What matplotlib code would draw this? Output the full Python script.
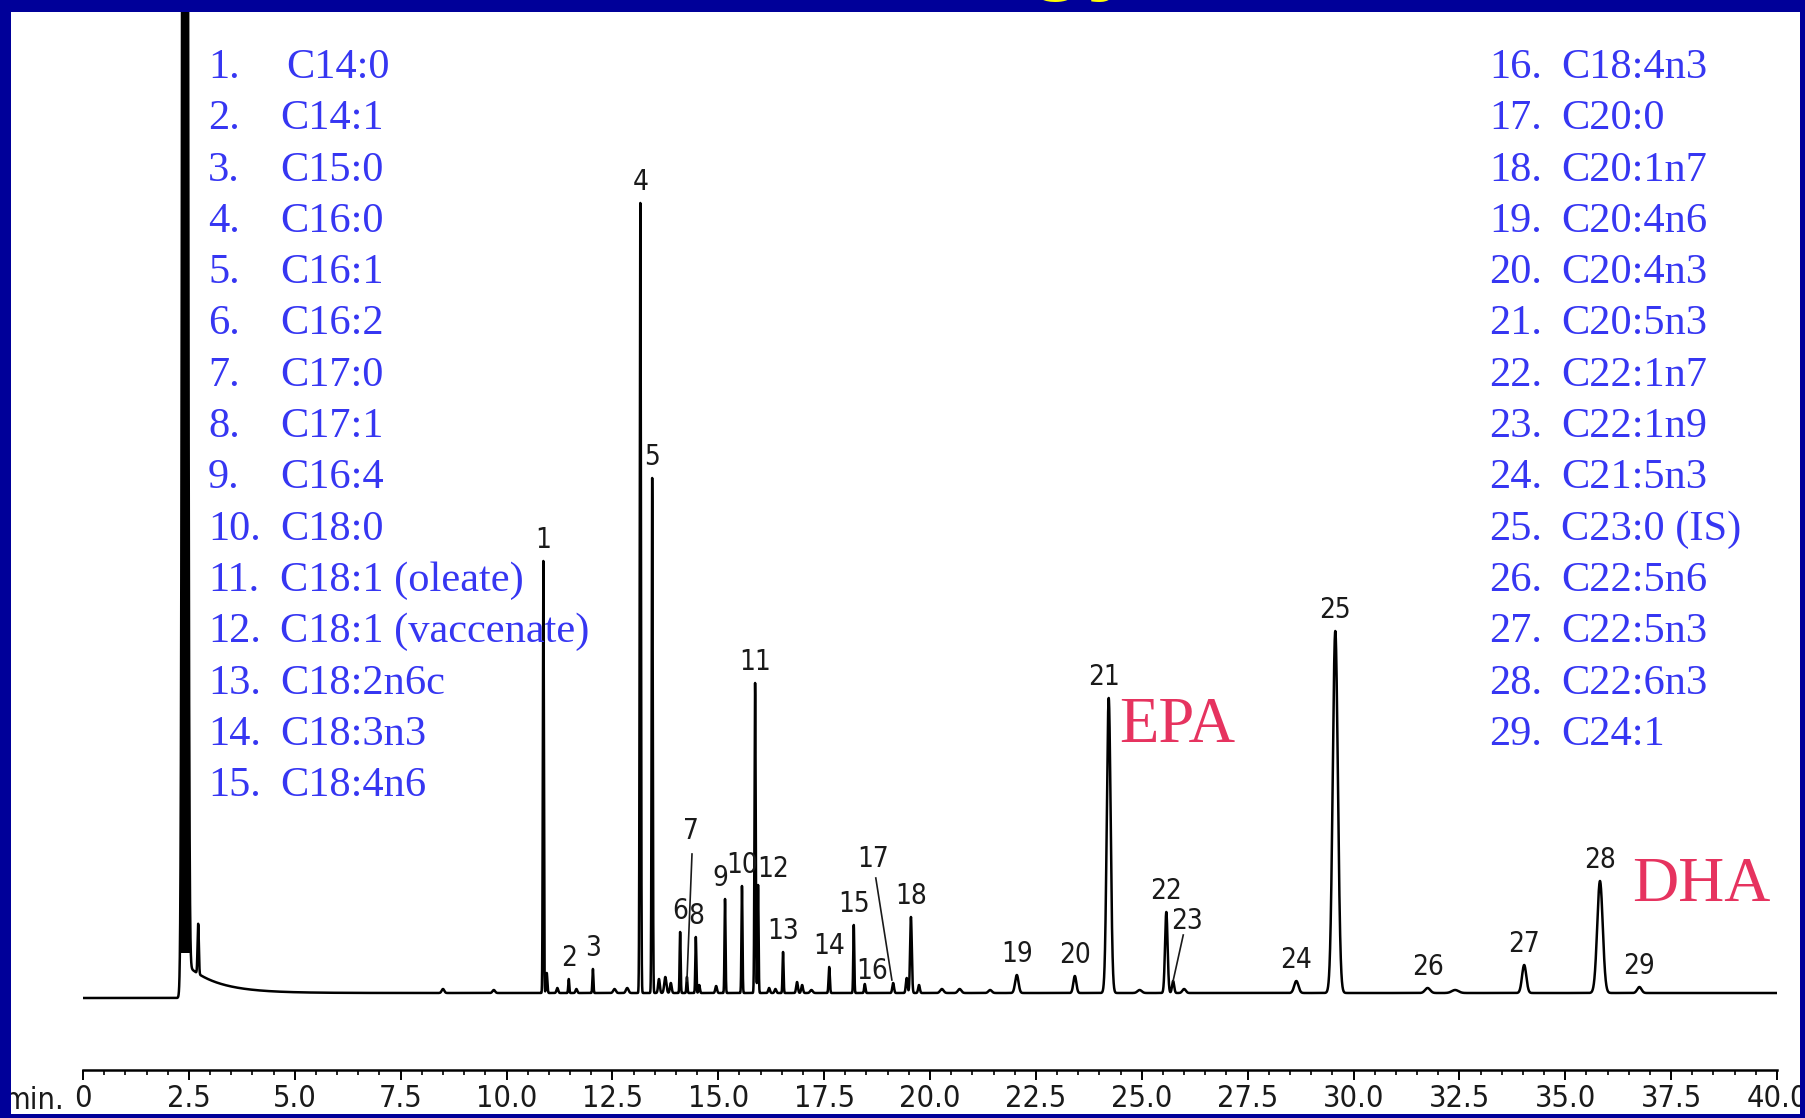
import os
import matplotlib
matplotlib.use("Agg")
import matplotlib.pyplot as plt
import numpy as np
from matplotlib import font_manager
from matplotlib.patches import Rectangle

# numbered peaks 1-29: retention time (min), height (detector units), width sigma (min)
peak_rt = [10.87, 11.47, 12.04, 13.16, 13.44, 14.10, 14.26, 14.47, 15.16, 15.56,
           15.87, 15.94, 16.53, 17.62, 18.20, 18.46, 19.13, 19.55, 22.05, 23.42,
           24.22, 25.58, 25.74, 28.65, 29.57, 31.75, 34.03, 35.82, 36.75]
peak_height = [432, 14, 24, 790, 515, 61, 16, 56, 94, 107,
               310, 108, 41, 26, 68, 9, 10, 76, 18, 17,
               295, 81, 12, 12, 362, 5, 28, 112, 6]
peak_sigma = [0.012, 0.012, 0.012, 0.014, 0.013, 0.012, 0.012, 0.012, 0.012, 0.012,
              0.014, 0.012, 0.012, 0.015, 0.012, 0.015, 0.02, 0.02, 0.04, 0.035,
              0.045, 0.03, 0.025, 0.05, 0.06, 0.06, 0.05, 0.065, 0.05]

# small unlabelled bumps on the baseline
minor_rt = [2.72, 8.5, 9.7, 10.95, 11.2, 11.65, 12.55, 12.85, 13.6, 13.75, 13.88,
            14.55, 14.95, 16.2, 16.35, 16.86, 16.98, 17.2, 19.45, 19.74, 20.28,
            20.7, 21.42, 24.95, 26.0, 32.4]
minor_height = [50, 4, 3, 20, 5, 4, 4, 5, 14, 16, 10,
                8, 7, 5, 4, 11, 8, 3, 15, 8, 4,
                4, 3, 3, 4, 3]
minor_sigma = [0.015, 0.03, 0.03, 0.015, 0.02, 0.02, 0.03, 0.03, 0.02, 0.025, 0.02,
               0.015, 0.02, 0.02, 0.02, 0.02, 0.02, 0.03, 0.02, 0.02, 0.04,
               0.04, 0.04, 0.05, 0.04, 0.08]

# solvent front (off scale) and its tail
solvent_rt, solvent_height, solvent_sigma = 2.41, 5000, 0.04
tail_start, tail_amp, tail_tau = 2.45, 28, 0.72
pre_solvent_level = -5

fame_names = ["C14:0", "C14:1", "C15:0", "C16:0", "C16:1", "C16:2", "C17:0", "C17:1",
              "C16:4", "C18:0", "C18:1 (oleate)", "C18:1 (vaccenate)", "C18:2n6c",
              "C18:3n3", "C18:4n6", "C18:4n3", "C20:0", "C20:1n7", "C20:4n6", "C20:4n3",
              "C20:5n3", "C22:1n7", "C22:1n9", "C21:5n3", "C23:0 (IS)", "C22:5n6",
              "C22:5n3", "C22:6n3", "C24:1"]

tick_values = np.arange(0, 40.01, 2.5)
tick_labels = ["0"] + [f"{v:.1f}" for v in tick_values[1:]]

W, H = 1805, 1118
BLUE_TEXT = "#3636F2"
PINK = "#E6335F"
INK = "#1a1a1a"


def narrow_font():
    # the instrument printout uses a condensed Helvetica; look for any condensed sans
    wanted = ["LiberationSansNarrow-Regular", "DejaVuSansCondensed", "RobotoCondensed-Regular",
              "NotoSans-Condensed", "OpenSans_Condensed-Regular", "OpenSans-CondensedRegular"]
    files = {os.path.splitext(os.path.basename(f.fname))[0]: f.fname
             for f in font_manager.fontManager.ttflist}
    for key in wanted:
        if key in files:
            return files[key], True
    for base, path in files.items():
        low = base.lower()
        if ("condensed" in low or "narrow" in low) and "sans" in low and "mono" not in low \
                and "bold" not in low and "italic" not in low and "semi" not in low \
                and "extra" not in low and "light" not in low:
            return path, True
    return None, False


narrow_path, is_narrow = narrow_font()


def sans_props(size):
    if narrow_path:
        return font_manager.FontProperties(fname=narrow_path, size=size)
    return font_manager.FontProperties(family="Liberation Sans", size=size)


lab_fp = sans_props(20 if is_narrow else 18)
tick_fp = sans_props(22 if is_narrow else 20)
serif = "Liberation Serif"

# build the trace
t = np.linspace(0, 40, 40001)
signal = np.where(t < tail_start, pre_solvent_level,
                  tail_amp * np.exp(-(t - tail_start) / tail_tau))
signal = signal + solvent_height * np.exp(-0.5 * ((t - solvent_rt) / solvent_sigma) ** 2)
for rt, h, s in zip(peak_rt + minor_rt, peak_height + minor_height, peak_sigma + minor_sigma):
    signal = signal + h * np.exp(-0.5 * ((t - rt) / s) ** 2)

fig = plt.figure(figsize=(W / 100, H / 100), dpi=100, facecolor="white")
ax = fig.add_axes([83 / W, 48 / H, (1777 - 83) / W, 1058 / H])
ax.set_facecolor("none")
ax.plot(t, signal, color="black", lw=1.8)
solvent_zone = (t < 3) & (signal > 40)
ax.fill_between(t, 40, signal, where=solvent_zone, color="black", lw=0)
ax.set_xlim(0, 40)
ax.set_ylim(-77, 981)

for side in ["left", "right", "top"]:
    ax.spines[side].set_visible(False)
ax.spines["bottom"].set_linewidth(1.8)
ax.set_yticks([])
ax.set_xticks(tick_values)
ax.set_xticklabels(tick_labels, fontproperties=tick_fp, color=INK)
ax.set_xticks(np.arange(0, 40.01, 0.5), minor=True)
ax.tick_params(axis="x", which="major", direction="out", length=7, width=1.4, pad=3)
ax.tick_params(axis="x", which="minor", direction="out", length=3.5, width=1.2)

# peak numbers
label_shift = {9: (-5, 0), 12: (15, -5), 16: (7, -8), 21: (-5, 0)}
leader_labels = {7: ((14.36, 162), (14.38, 139), (14.26, 12)),
                 17: ((18.65, 134), (18.72, 115), (19.10, 13)),
                 23: ((26.07, 72), (25.98, 58), (25.74, 12))}
for i, (rt, h) in enumerate(zip(peak_rt, peak_height)):
    n = i + 1
    if n in leader_labels:
        (lx, ly), (x0, y0), (x1, y1) = leader_labels[n]
        ax.text(lx, ly, str(n), ha="center", va="center", fontproperties=lab_fp, color=INK)
        ax.plot([x0, x1], [y0, y1], color=INK, lw=1.2)
        continue
    dx, dy = label_shift.get(n, (0, 0))
    ax.annotate(str(n), xy=(rt, h), xytext=(dx, 21 + dy), textcoords="offset pixels",
                ha="center", va="center", fontproperties=lab_fp, color=INK)

# compound list
for i, name in enumerate(fame_names):
    col, row = divmod(i, 15)
    base_y = 1 - (78 + 51.3 * row) / H
    if col == 0:
        num_x, name_x = 208, (286 if i == 0 else 280)
    else:
        num_x, name_x = 1489, 1561
    fig.text(num_x / W, base_y, f"{i + 1}.", fontfamily=serif, fontsize=30.5,
             color=BLUE_TEXT, va="baseline", ha="left")
    fig.text(name_x / W, base_y, name, fontfamily=serif, fontsize=30.5,
             color=BLUE_TEXT, va="baseline", ha="left")

fig.text(1119 / W, 1 - 742 / H, "EPA", fontfamily=serif, fontsize=46.5, color=PINK,
         va="baseline", ha="left")
fig.text(1632 / W, 1 - 901 / H, "DHA", fontfamily=serif, fontsize=46, color=PINK,
         va="baseline", ha="left")
fig.text(64 / W, 1 - 1086 / H, "min.", fontproperties=tick_fp, color=INK,
         ha="right", va="top")

# slide frame, with the slide title cut off above it
frame = "#000099"
for (x0, y0, w, h) in [(0, 0, 11, H), (0, H - 12, W, 12), (1800, 0, 5, H), (0, 0, W, 4)]:
    fig.add_artist(Rectangle((x0 / W, y0 / H), w / W, h / H, transform=fig.transFigure,
                             facecolor=frame, edgecolor="none", zorder=50))
fig.text(1026 / W, 1 + 19 / H, "gy", fontfamily="Liberation Sans", fontweight="bold",
         fontsize=72, color="#FFFF00", va="baseline", ha="left", zorder=60)

fig.savefig("out.png", dpi=100, facecolor="white")
